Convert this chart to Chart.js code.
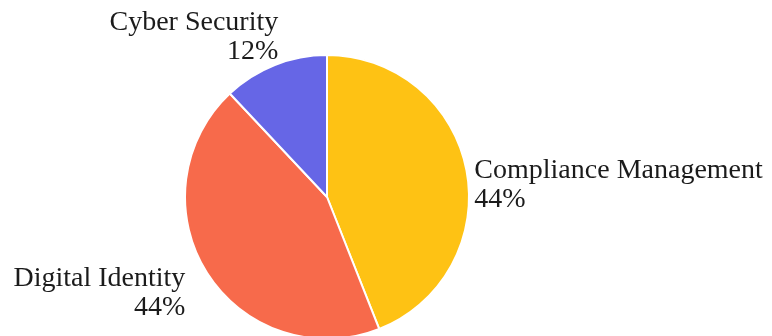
<!DOCTYPE html>
<html>
<head>
<meta charset="utf-8">
<script src="https://cdn.jsdelivr.net/npm/chart.js@4.4.1/dist/chart.umd.min.js"></script>
<style>
  html, body { margin: 0; padding: 0; background: #fff; overflow: hidden; }
  #wrap { width: 772px; height: 336px; overflow: hidden; }
  canvas { display: block; }
</style>
</head>
<body>
<div id="wrap"><canvas id="shareChart" width="772" height="340"></canvas></div>
<script>
const categories = ['Compliance Management', 'Digital Identity', 'Cyber Security'];
const shares = [44, 44, 12];
const sliceColors = ['#fec214', '#f76a4b', '#6666e6'];

// Category name + share drawn outside each slice.
// Left-hand labels are right-aligned, right-hand ones left-aligned.
const outsideLabels = {
    id: 'outsideLabels',
    afterDatasetsDraw(chart) {
        const ctx = chart.ctx;
        const arcs = chart.getDatasetMeta(0).data;
        ctx.save();
        ctx.font = '28px "Liberation Serif", serif';
        ctx.fillStyle = '#1b1b1b';
        ctx.textBaseline = 'alphabetic';
        arcs.forEach((arc, i) => {
            const mid = (arc.startAngle + arc.endAngle) / 2;
            const vx = Math.cos(mid);
            const vy = Math.sin(mid);
            const r = arc.outerRadius + 8;
            const onLeft = vx < 0;
            let x = arc.x + vx * r;
            if (onLeft) x += 23 + 45 * vx;
            // slices pointing upward get their label block lifted above the rim
            const base = arc.y + vy * r + 9 - Math.max(0, -vy - 0.5) * 85;
            ctx.textAlign = onLeft ? 'right' : 'left';
            ctx.fillText(categories[i], x, base);
            ctx.fillText(shares[i] + '%', x, base + 29);
        });
        ctx.restore();
    }
};

// the canvas runs a few pixels past the visible frame so the pie's lower rim is cut off
new Chart(document.getElementById('shareChart'), {
    type: 'pie',
    data: {
        labels: categories,
        datasets: [{
            data: shares,
            backgroundColor: sliceColors,
            borderColor: '#ffffff',
            borderWidth: 2,
            hoverOffset: 0
        }]
    },
    options: {
        responsive: false,
        animation: false,
        layout: {
            padding: { left: 0, right: 118, top: 54, bottom: 0 }
        },
        plugins: {
            legend: { display: false },
            tooltip: { enabled: false }
        }
    },
    plugins: [outsideLabels]
});
</script>
</body>
</html>
